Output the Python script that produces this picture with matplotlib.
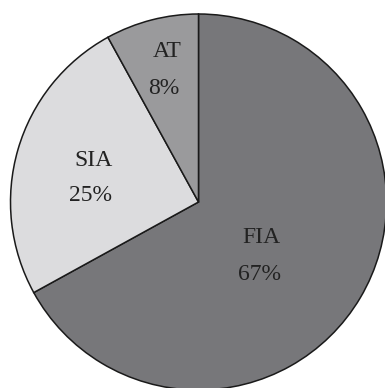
import matplotlib.pyplot as plt

# 数据
categories = ['FIA', 'SIA', 'AT']
shares = [67, 25, 8]
colors = ['#77777a', '#dcdcde', '#9a9a9c']

# 标签位置 (数据坐标, 半径=1)
name_pos = [(0.336, -0.191), (-0.559, 0.223), (-0.169, 0.798)]
pct_pos = [(0.327, -0.383), (-0.574, 0.032), (-0.184, 0.606)]

plt.rcParams['font.family'] = ['Liberation Serif', 'DejaVu Serif']

fig = plt.figure(figsize=(3.85, 3.88), dpi=100)
ax = fig.add_axes([10.5 / 385, -2 / 388, 376 / 385, 376 / 388])

ax.pie(shares, colors=colors, startangle=90, counterclock=False,
       radius=1.0, wedgeprops=dict(edgecolor='#1a1a1a', linewidth=1.1))

for name, val, p1, p2 in zip(categories, shares, name_pos, pct_pos):
    ax.text(p1[0], p1[1], name, ha='center', va='center', fontsize=17, color='#222222')
    ax.text(p2[0], p2[1], f'{val}%', ha='center', va='center', fontsize=17, color='#222222')

ax.set_xlim(-1.0, 1.0)
ax.set_ylim(-1.0, 1.0)
ax.set_aspect('equal')
ax.axis('off')

fig.savefig('out.png', dpi=100)
